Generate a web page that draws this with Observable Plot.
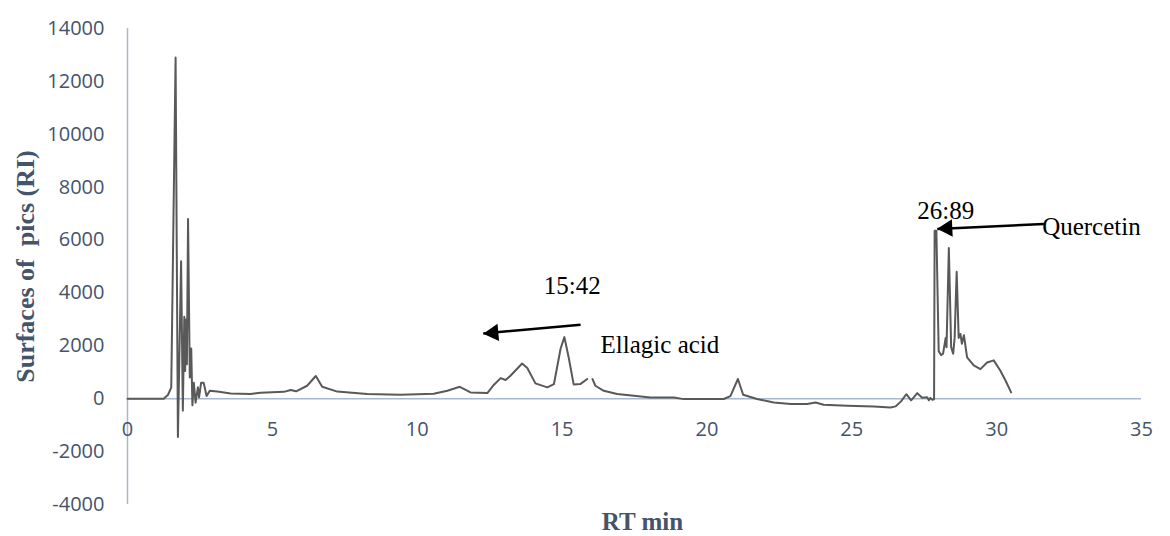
<!DOCTYPE html>
<html>
<head>
<meta charset="utf-8">
<script src="https://cdn.jsdelivr.net/npm/d3@7"></script>
<script src="https://cdn.jsdelivr.net/npm/@observablehq/plot@0.6"></script>
<style>
  html, body { margin: 0; padding: 0; background: #ffffff; }
  #chart svg text { white-space: pre; }
</style>
</head>
<body>
<div id="chart"></div>
<script>
// Retention time (min)
const rt = [
  0.00, 1.25, 1.40, 1.51, 1.66, 1.74, 1.85, 1.91, 1.96, 1.99, 2.02, 2.05, 2.09, 2.15, 2.20, 2.24,
  2.29, 2.35, 2.43, 2.47, 2.54, 2.63, 2.73, 2.84, 3.10, 3.56, 4.25, 4.59, 5.40, 5.63, 5.82, 6.20,
  6.50, 6.72, 7.24, 8.27, 9.42, 10.57, 11.04, 11.47, 11.84, 12.42, 12.65, 12.88, 13.05, 13.22,
  13.62, 13.80, 14.08, 14.49, 14.72, 14.95, 15.08, 15.23, 15.40, 15.64, 15.87, 15.95, 16.05,
  16.15, 16.44, 16.90, 17.48, 18.05, 18.86, 19.20, 19.78, 20.58, 20.81, 21.07, 21.25, 21.73,
  22.31, 22.89, 23.46, 23.75, 24.03, 24.84, 25.76, 26.34, 26.51, 26.70, 26.88, 27.05, 27.26,
  27.43, 27.60, 27.66, 27.71, 27.78, 27.84, 27.86, 27.92, 28.00, 28.08, 28.15, 28.24, 28.27,
  28.35, 28.43, 28.50, 28.55, 28.62, 28.69, 28.75, 28.80, 28.87, 28.98, 29.21, 29.44, 29.67,
  29.90, 30.13, 30.31, 30.50
];
// Signal (RI)
const signal = [
  0, 0, 150, 430, 12900, -1450, 5200, -450, 3100, 1050, 3000, 1300, 6800, 800, 1900, -250,
  600, -150, 430, 50, 600, 600, 100, 300, 270, 200, 180, 230, 260, 330, 280, 490,
  860, 450, 270, 180, 150, 190, 300, 450, 240, 215, 530, 780, 710, 870,
  1330, 1160, 580, 430, 555, 1900, 2330, 1550, 540, 560, 745, null, 740,
  490, 300, 180, 110, 50, 50, -15, -15, -10, 100, 745, 150, -10,
  -140, -200, -200, -140, -230, -265, -290, -330, -290, -100, 170, -60, 210,
  40, 60, -60, 30, -40, -20, 6350, 6350, 1800, 1650, 1700, 2300, 1950,
  5700, 1950, 1700, 2300, 4800, 2300, 2450, 2080, 2400, 1560, 1260, 1120, 1370,
  1450, 1060, 680, 240
];

const xTicks = [0, 5, 10, 15, 20, 25, 30, 35];
const yTicks = [-4000, -2000, 0, 2000, 4000, 6000, 8000, 10000, 12000, 14000];

// Annotations
const noteLabels = ["15:42", "Ellagic acid", "26:89", "Quercetin"];
const noteT = [15.35, 16.33, 28.24, 31.57];
const noteV = [4280, 2017, 7114, 6480];
const noteAnchor = ["middle", "start", "middle", "start"];

const arrowFromT = [15.64, 31.63];
const arrowFromV = [2800, 6610];
const arrowToT = [12.28, 27.95];
const arrowToV = [2470, 6420];
const arrowHeadRotate = [-95, -92.7];

const yTitle = "Surfaces of  pics (RI)";
const xTitle = "RT min";

const series = rt.map((t, i) => ({t, v: signal[i]}));
const notes = noteLabels.map((label, i) => ({label, t: noteT[i], v: noteV[i], anchor: noteAnchor[i]}));
const arrows = arrowFromT.map((t, i) => ({
  t1: t, v1: arrowFromV[i], t2: arrowToT[i], v2: arrowToV[i], rot: arrowHeadRotate[i]
}));

const axisColor = "#a9b8cc";
const tickColor = "#44546a";
const serif = "'Liberation Serif', 'Times New Roman', serif";

const chart = Plot.plot({
  width: 1170,
  height: 536,
  marginLeft: 127,
  marginRight: 29,
  marginTop: 28,
  marginBottom: 32,
  style: {fontFamily: "'Open Sans', sans-serif", fontSize: "20px", background: "#ffffff", overflow: "visible"},
  x: {domain: [0, 35], axis: null},
  y: {domain: [-4000, 14000], axis: null},
  marks: [
    Plot.ruleY([0], {stroke: axisColor, strokeWidth: 1.5}),
    Plot.ruleX([0], {stroke: axisColor, strokeWidth: 1.5}),
    Plot.axisY(yTicks, {
      tickSize: 0, tickPadding: 23, tickFormat: d => String(d),
      fill: tickColor, fontSize: 20, label: null
    }),
    Plot.text(xTicks, {
      x: d => d, y: () => 0, dy: 31, text: d => String(d),
      fill: tickColor, fontSize: 20, textAnchor: "middle"
    }),
    Plot.line(series, {x: "t", y: "v", stroke: "#595959", strokeWidth: 2, strokeLinejoin: "round"}),
    Plot.link(arrows, {x1: "t1", y1: "v1", x2: "t2", y2: "v2", stroke: "#000000", strokeWidth: 2.5}),
    Plot.dot(arrows, {
      x: "t2", y: "v2", symbol: "triangle", r: 6.5, fill: "#000000", stroke: "none",
      rotate: "rot", dx: 10, dy: -0.6
    }),
    Plot.text(notes.filter(d => d.anchor === "middle"), {
      x: "t", y: "v", text: "label", textAnchor: "middle",
      fill: "#000000", fontFamily: serif, fontSize: 25
    }),
    Plot.text(notes.filter(d => d.anchor === "start"), {
      x: "t", y: "v", text: "label", textAnchor: "start",
      fill: "#000000", fontFamily: serif, fontSize: 25
    }),
    Plot.text([yTitle], {
      frameAnchor: "left", text: d => d, rotate: -90, dx: -102,
      textAnchor: "middle", lineAnchor: "middle",
      fill: tickColor, fontFamily: serif, fontSize: 26, fontWeight: "bold"
    }),
    Plot.text([xTitle], {
      frameAnchor: "bottom", text: d => d, dx: 8, dy: 17,
      textAnchor: "middle", lineAnchor: "middle",
      fill: tickColor, fontFamily: serif, fontSize: 25, fontWeight: "bold"
    })
  ]
});

document.getElementById("chart").appendChild(chart);
</script>
</body>
</html>
